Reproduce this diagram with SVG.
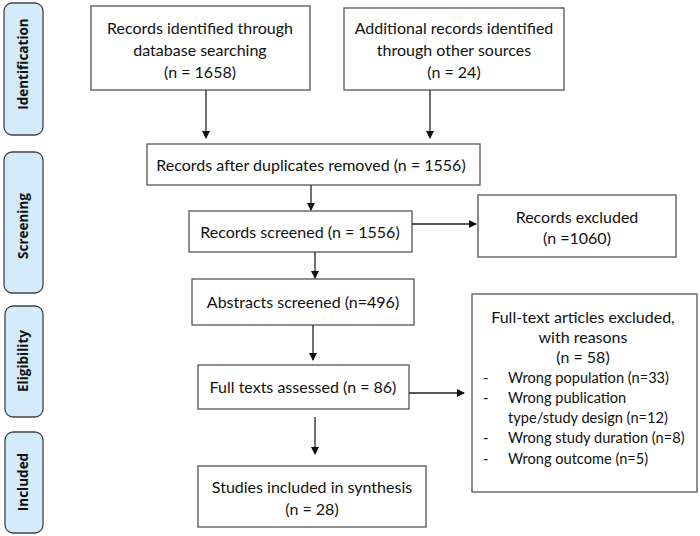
<svg xmlns="http://www.w3.org/2000/svg" width="700" height="536" viewBox="0 0 700 536">
<style>
.box{fill:#fff;stroke:#555;stroke-width:1.3}
.side{fill:#d3ebfb;stroke:#444;stroke-width:1.3}
.t{font-family:Lato,"Liberation Sans",sans-serif;font-size:16px;fill:#111;text-anchor:middle}
.tl{font-family:Lato,"Liberation Sans",sans-serif;font-size:14.6px;fill:#111}
.st{font-family:"Open Sans","Liberation Sans",sans-serif;font-size:13.5px;font-weight:bold;fill:#111;text-anchor:middle}
.c{stroke:#222;stroke-width:1.3;fill:none;marker-end:url(#ah)}
</style>
<defs>
<marker id="ah" markerWidth="8" markerHeight="8" refX="7" refY="4" orient="auto" markerUnits="userSpaceOnUse">
<path d="M0,0 L8,4 L0,8 Z" fill="#111"/>
</marker>
</defs>
<g id="side-identification"><rect class="side" x="4" y="3" width="39" height="132" rx="8"/><text class="st" transform="translate(28,64) rotate(-90)">Identification</text></g>
<g id="side-screening"><rect class="side" x="4" y="152" width="39" height="141" rx="8"/><text class="st" transform="translate(28,226) rotate(-90)">Screening</text></g>
<g id="side-eligibility"><rect class="side" x="5" y="306" width="38" height="111" rx="8"/><text class="st" transform="translate(28,361) rotate(-90)">Eligibility</text></g>
<g id="side-included"><rect class="side" x="5" y="432" width="38" height="101" rx="8"/><text class="st" transform="translate(28,482) rotate(-90)">Included</text></g>

<g id="n-db"><rect class="box" x="91" y="6" width="219" height="84"/>
<text class="t" x="200" y="34">Records identified through</text>
<text class="t" x="200" y="56">database searching</text>
<text class="t" x="200" y="78">(n = 1658)</text></g>
<g id="n-other"><rect class="box" x="344" y="8" width="220" height="82"/>
<text class="t" x="454" y="34">Additional records identified</text>
<text class="t" x="454" y="56">through other sources</text>
<text class="t" x="454" y="78">(n = 24)</text></g>
<g id="n-dup"><rect class="box" x="147" y="144" width="333" height="41"/>
<text class="t" x="311" y="171">Records after duplicates removed (n = 1556)</text></g>
<g id="n-screened"><rect class="box" x="189" y="211" width="223" height="41"/>
<text class="t" x="300" y="238">Records screened (n = 1556)</text></g>
<g id="n-excl"><rect class="box" x="478" y="195" width="198" height="62"/>
<text class="t" x="577" y="223">Records excluded</text>
<text class="t" x="577" y="244">(n =1060)</text></g>
<g id="n-abs"><rect class="box" x="192" y="279" width="222" height="46"/>
<text class="t" x="303" y="308">Abstracts screened (n=496)</text></g>
<g id="n-full"><rect class="box" x="198" y="365" width="211" height="44"/>
<text class="t" x="303" y="393">Full texts assessed (n = 86)</text></g>
<g id="n-ftexcl"><rect class="box" x="472" y="294" width="225" height="198"/>
<text class="t" x="583" y="323">Full-text articles excluded,</text>
<text class="t" x="583" y="343">with reasons</text>
<text class="t" x="583" y="363">(n = 58)</text>
<text class="tl" x="483" y="383">-</text><text class="tl" x="508" y="383">Wrong population (n=33)</text>
<text class="tl" x="483" y="403">-</text><text class="tl" x="508" y="403">Wrong publication</text>
<text class="tl" x="508" y="423">type/study design (n=12)</text>
<text class="tl" x="483" y="443">-</text><text class="tl" x="508" y="443">Wrong study duration (n=8)</text>
<text class="tl" x="483" y="464">-</text><text class="tl" x="508" y="464">Wrong outcome (n=5)</text></g>
<g id="n-incl"><rect class="box" x="198" y="466" width="228" height="61"/>
<text class="t" x="312" y="493">Studies included in synthesis</text>
<text class="t" x="312" y="515">(n = 28)</text></g>

<g id="connectors">
<line class="c" x1="206" y1="90" x2="206" y2="138"/>
<line class="c" x1="430" y1="90" x2="430" y2="138"/>
<line class="c" x1="311" y1="185" x2="311" y2="210"/>
<line class="c" x1="412" y1="224" x2="476" y2="224"/>
<line class="c" x1="315" y1="252" x2="315" y2="278"/>
<line class="c" x1="313" y1="325" x2="313" y2="360"/>
<line class="c" x1="409" y1="393" x2="464" y2="393"/>
<line class="c" x1="315" y1="417" x2="315" y2="454"/>
</g>
</svg>
